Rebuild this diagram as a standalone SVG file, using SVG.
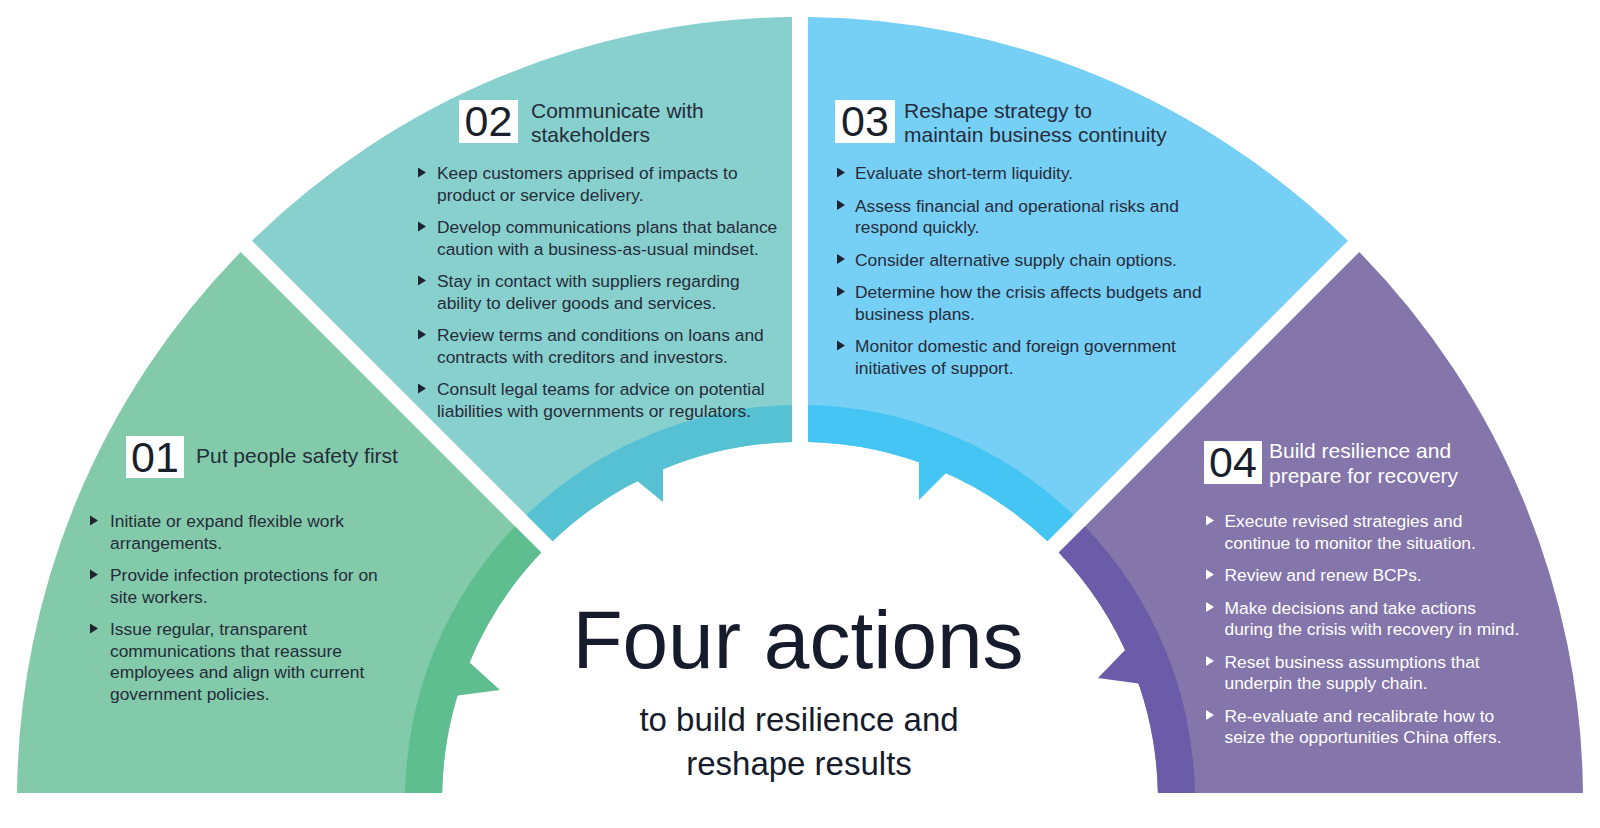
<svg xmlns="http://www.w3.org/2000/svg" width="1600" height="828" viewBox="0 0 1600 828">
<style>
text{font-family:"Liberation Sans",Arial,sans-serif;fill:#262c3a}
.b{font-size:17.4px}
.h{font-size:21px}
.n{font-size:43px;text-anchor:middle;fill:#1a1f2c}
.box{fill:#ffffff}
.tri{fill:#1f2430}
.inv text.b,.inv text.h{fill:#ffffff}
.inv .tri{fill:#ffffff}
.t1{font-size:82px;text-anchor:middle;fill:#161c2c}
.t2{font-size:33px;text-anchor:middle;fill:#161c2c}
</style>
<rect width="1600" height="828" fill="#ffffff"/>

<g id="seg01">
<path d="M17.03 793 A783 783 0 0 1 240.70 252.02 L541.26 552.58 A358 358 0 0 0 442.07 793 Z" fill="#82caaa"/>
<path d="M405.06 793 A395 395 0 0 1 515.09 526.41 L541.26 552.58 A358 358 0 0 0 442.07 793 Z" fill="#5fbe8f"/>
<polygon points="468,661 500,690 454,696" fill="#5fbe8f"/>
<rect class="box" x="126" y="436" width="58" height="42"/>
<text class="n" x="155" y="472">01</text>
<text class="h" x="196" y="463">Put people safety first</text>
<polygon class="tri" points="90,515.5 98,520.5 90,525.5"/>
<polygon class="tri" points="90,569.5 98,574.5 90,579.5"/>
<polygon class="tri" points="90,623.5 98,628.5 90,633.5"/>
<text class="b" x="110"><tspan x="110" y="527">Initiate or expand flexible work</tspan><tspan x="110" y="548.5">arrangements.</tspan><tspan x="110" y="581">Provide infection protections for on</tspan><tspan x="110" y="602.5">site workers.</tspan><tspan x="110" y="635">Issue regular, transparent</tspan><tspan x="110" y="656.5">communications that reassure</tspan><tspan x="110" y="678">employees and align with current</tspan><tspan x="110" y="699.5">government policies.</tspan></text>
</g>

<g id="seg02">
<path d="M252.02 240.70 A783 783 0 0 1 792 17.04 L792 442.09 A358 358 0 0 0 552.58 541.26 Z" fill="#88d0ce"/>
<path d="M526.41 515.09 A395 395 0 0 1 792 405.08 L792 442.09 A358 358 0 0 0 552.58 541.26 Z" fill="#56c1d2"/>
<polygon points="636,480 663,502 663,467" fill="#56c1d2"/>
<rect class="box" x="459" y="100" width="59" height="43"/>
<text class="n" x="488.5" y="136">02</text>
<text class="h"><tspan x="531" y="118">Communicate with</tspan><tspan x="531" y="142">stakeholders</tspan></text>
<polygon class="tri" points="418,167.5 426,172.5 418,177.5"/>
<polygon class="tri" points="418,221.5 426,226.5 418,231.5"/>
<polygon class="tri" points="418,275.5 426,280.5 418,285.5"/>
<polygon class="tri" points="418,329.5 426,334.5 418,339.5"/>
<polygon class="tri" points="418,383.5 426,388.5 418,393.5"/>
<text class="b"><tspan x="437" y="179">Keep customers apprised of impacts to</tspan><tspan x="437" y="200.5">product or service delivery.</tspan><tspan x="437" y="233">Develop communications plans that balance</tspan><tspan x="437" y="254.5">caution with a business-as-usual mindset.</tspan><tspan x="437" y="287">Stay in contact with suppliers regarding</tspan><tspan x="437" y="308.5">ability to deliver goods and services.</tspan><tspan x="437" y="341">Review terms and conditions on loans and</tspan><tspan x="437" y="362.5">contracts with creditors and investors.</tspan><tspan x="437" y="395">Consult legal teams for advice on potential</tspan><tspan x="437" y="416.5">liabilities with governments or regulators.</tspan></text>
</g>

<g id="seg03">
<path d="M808 17.04 A783 783 0 0 1 1347.98 240.70 L1047.42 541.26 A358 358 0 0 0 808 442.09 Z" fill="#76cff5"/>
<path d="M808 405.08 A395 395 0 0 1 1073.59 515.09 L1047.42 541.26 A358 358 0 0 0 808 442.09 Z" fill="#45c5f3"/>
<polygon points="947,472 919,500 919,460" fill="#45c5f3"/>
<rect class="box" x="835" y="100" width="60" height="43"/>
<text class="n" x="865" y="136">03</text>
<text class="h"><tspan x="904" y="118">Reshape strategy to</tspan><tspan x="904" y="142">maintain business continuity</tspan></text>
<polygon class="tri" points="837,167.5 845,172.5 837,177.5"/>
<polygon class="tri" points="837,200 845,205 837,210"/>
<polygon class="tri" points="837,254 845,259 837,264"/>
<polygon class="tri" points="837,286.5 845,291.5 837,296.5"/>
<polygon class="tri" points="837,340.5 845,345.5 837,350.5"/>
<text class="b"><tspan x="855" y="179">Evaluate short-term liquidity.</tspan><tspan x="855" y="211.5">Assess financial and operational risks and</tspan><tspan x="855" y="233">respond quickly.</tspan><tspan x="855" y="265.5">Consider alternative supply chain options.</tspan><tspan x="855" y="298">Determine how the crisis affects budgets and</tspan><tspan x="855" y="319.5">business plans.</tspan><tspan x="855" y="352">Monitor domestic and foreign government</tspan><tspan x="855" y="373.5">initiatives of support.</tspan></text>
</g>

<g id="seg04" class="inv">
<path d="M1359.30 252.02 A783 783 0 0 1 1582.97 793 L1157.93 793 A358 358 0 0 0 1058.74 552.58 Z" fill="#8476ab"/>
<path d="M1084.91 526.41 A395 395 0 0 1 1194.94 793 L1157.93 793 A358 358 0 0 0 1058.74 552.58 Z" fill="#6a5ca8"/>
<polygon points="1127,648 1098,678 1142,684" fill="#6a5ca8"/>
<rect class="box" x="1204" y="441" width="58" height="43"/>
<text class="n" x="1233" y="477">04</text>
<text class="h"><tspan x="1269" y="458">Build resilience and</tspan><tspan x="1269" y="483">prepare for recovery</tspan></text>
<polygon class="tri" points="1206,515.5 1214,520.5 1206,525.5"/>
<polygon class="tri" points="1206,569.5 1214,574.5 1206,579.5"/>
<polygon class="tri" points="1206,602 1214,607 1206,612"/>
<polygon class="tri" points="1206,656 1214,661 1206,666"/>
<polygon class="tri" points="1206,710 1214,715 1206,720"/>
<text class="b"><tspan x="1224.5" y="527">Execute revised strategies and</tspan><tspan x="1224.5" y="548.5">continue to monitor the situation.</tspan><tspan x="1224.5" y="581">Review and renew BCPs.</tspan><tspan x="1224.5" y="613.5">Make decisions and take actions</tspan><tspan x="1224.5" y="635">during the crisis with recovery in mind.</tspan><tspan x="1224.5" y="667.5">Reset business assumptions that</tspan><tspan x="1224.5" y="689">underpin the supply chain.</tspan><tspan x="1224.5" y="721.5">Re-evaluate and recalibrate how to</tspan><tspan x="1224.5" y="743">seize the opportunities China offers.</tspan></text>
</g>

<g id="title">
<text class="t1" x="798" y="668">Four actions</text>
<text class="t2" x="799" y="731">to build resilience and</text>
<text class="t2" x="799" y="775">reshape results</text>
</g>
</svg>
